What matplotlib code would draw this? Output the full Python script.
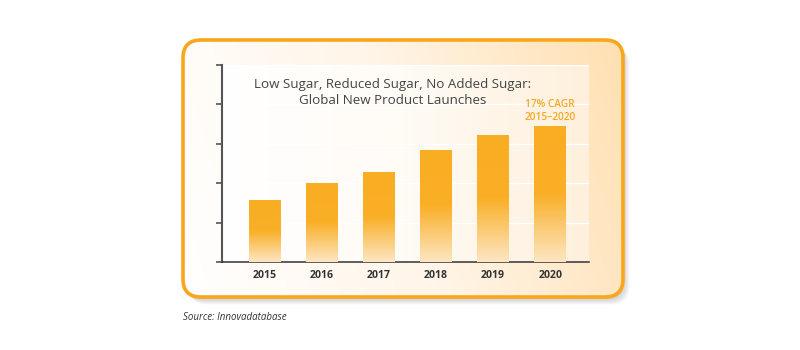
import numpy as np
import matplotlib
matplotlib.use('Agg')
import matplotlib.pyplot as plt
from matplotlib.patches import FancyBboxPatch
from matplotlib.colors import LinearSegmentedColormap

# ---- data ----
years = ['2015', '2016', '2017', '2018', '2019', '2020']
launches = [1.55, 1.98, 2.28, 2.82, 3.22, 3.43]
title = "Low Sugar, Reduced Sugar, No Added Sugar:\nGlobal New Product Launches"
cagr_label = "17% CAGR\n2015\u20132020"
source = "Source: Innovadatabase"

plt.rcParams['font.family'] = ['Open Sans', 'DejaVu Sans']

fig = plt.figure(figsize=(8, 3.5), dpi=100)
fig.patch.set_facecolor('white')

# background axes in pixel coordinates
bg = fig.add_axes([0, 0, 1, 1], zorder=0)
bg.set_xlim(0, 800)
bg.set_ylim(350, 0)
bg.axis('off')

bx, by, bw, bh, r = 183, 40, 440, 257, 18
# shadow
for i in range(8):
    sh = FancyBboxPatch((bx + 1 + i * 0.8, by + 2 + i * 0.8), bw, bh,
                        boxstyle=f"round,pad=0,rounding_size={r}",
                        fc='black', ec='none', alpha=0.025, zorder=1)
    bg.add_patch(sh)

box = FancyBboxPatch((bx, by), bw, bh, boxstyle=f"round,pad=0,rounding_size={r}",
                     fc='white', ec='none', zorder=2)
bg.add_patch(box)
box_cmap = LinearSegmentedColormap.from_list('boxg', ['#FFFFFF', '#FFF5E8', '#FFE0B2'])
gx = np.linspace(0, 1, 256)
gy = np.linspace(0, 1, 64)
GX, GY = np.meshgrid(gx, gy)
grad = np.clip(0.85 * GX + 0.15 * (1 - GY), 0, 1)
im = bg.imshow(grad, extent=[bx, bx + bw, by + bh, by], cmap=box_cmap, aspect='auto',
               interpolation='bicubic', zorder=3, origin='upper')
im.set_clip_path(box)
border = FancyBboxPatch((bx, by), bw, bh, boxstyle=f"round,pad=0,rounding_size={r}",
                        fc='none', ec='#F9A61A', lw=2.6, zorder=4)
bg.add_patch(border)
bg.set_xlim(0, 800)
bg.set_ylim(350, 0)

bg.text(bx, 317, source, fontsize=7, style='italic', color='#333333', va='center', ha='left')

# main axes
ax = fig.add_axes([222 / 800, 1 - 262 / 350, 367 / 800, 197 / 350], zorder=2)
ax.patch.set_visible(False)
x = np.arange(len(years))

# plot-area lighter panel
panel_cmap = LinearSegmentedColormap.from_list('pan', ['#FFFFFF', '#FFFBF5', '#FEF0DC'])
ax.imshow(np.linspace(0, 1, 256)[None, :], extent=[0, 1, 0, 1], transform=ax.transAxes,
          cmap=panel_cmap, aspect='auto', interpolation='bicubic', zorder=0)

bar_w = 0.56
bars = ax.bar(x, launches, width=bar_w, color='none', edgecolor='none', zorder=3)
bar_cmap = LinearSegmentedColormap.from_list(
    'barg', [(0.0, '#FDE6C2'), (0.5, '#F9AF27'), (1.0, '#F9AD22')])
vg = np.linspace(1, 0, 128)[:, None]
for b in bars:
    ax.imshow(vg, extent=[b.get_x(), b.get_x() + b.get_width(), 0, b.get_height()],
              cmap=bar_cmap, vmin=0, vmax=1, aspect='auto', interpolation='bicubic', zorder=3)

ax.set_xlim(-0.75, 5.68)
ax.set_ylim(0, 5)
ax.set_yticks(range(6))
ax.yaxis.grid(True, color='white', lw=1.0)
ax.set_axisbelow(True)
ax.tick_params(axis='y', direction='out', length=4, width=1.2, color='#555555', labelleft=False)
ax.set_xticks(x)
ax.set_xticklabels(years, fontsize=7.6, fontweight='bold', color='#333333')
ax.tick_params(axis='x', length=0, pad=6)
for s in ['top', 'right']:
    ax.spines[s].set_visible(False)
ax.spines['left'].set_color('#555555')
ax.spines['left'].set_linewidth(1.5)
ax.spines['bottom'].set_color('#333333')
ax.spines['bottom'].set_linewidth(1.1)

ax.text(0.466, 0.86, title, transform=ax.transAxes, ha='center', va='center',
        fontsize=9.6, color='#444444', linespacing=1.3, zorder=5)

ax.annotate(cagr_label, xy=(x[-1], launches[-1]), xytext=(0, 3), textcoords='offset points',
            ha='center', va='bottom', fontsize=7.3, color='#F7A823', fontweight='semibold',
            linespacing=1.25, zorder=5)

fig.savefig('out.png', dpi=100)
